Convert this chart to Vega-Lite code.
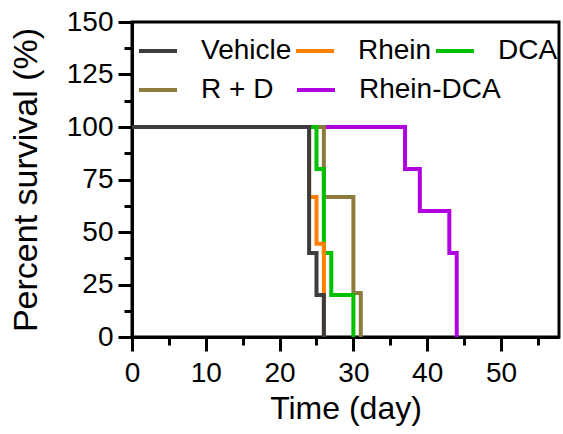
{
  "$schema": "https://vega.github.io/schema/vega-lite/v6.json",
  "autosize": "none",
  "width": 427,
  "height": 315,
  "padding": {"left": 132, "top": 22, "right": 4, "bottom": 97},
  "background": "white",
  "config": {
    "font": "Liberation Sans",
    "view": {"stroke": "black", "strokeWidth": 3},
    "axis": {
      "grid": false,
      "domainColor": "black",
      "domainWidth": 3,
      "tickColor": "black",
      "tickWidth": 3,
      "labelColor": "black",
      "titleColor": "black",
      "labelFont": "Liberation Sans",
      "titleFont": "Liberation Sans",
      "labelFontSize": 28,
      "titleFontWeight": "normal",
      "labelFlush": false,
      "labelOverlap": false,
      "labelBound": false
    },
    "legend": {
      "orient": "none",
      "labelFont": "Liberation Sans",
      "labelFontSize": 28,
      "labelColor": "black",
      "symbolType": "stroke",
      "symbolSize": 1444,
      "symbolStrokeWidth": 4,
      "labelOffset": 22,
      "padding": 0,
      "rowPadding": 0,
      "direction": "horizontal",
      "gridAlign": "none"
    }
  },
  "data": {
    "values": [
      {"group": "Rhein-DCA", "day": 0, "pct": 100},
      {"group": "Rhein-DCA", "day": 37, "pct": 80},
      {"group": "Rhein-DCA", "day": 39, "pct": 60},
      {"group": "Rhein-DCA", "day": 43, "pct": 40},
      {"group": "Rhein-DCA", "day": 44, "pct": 0},
      {"group": "R + D", "day": 0, "pct": 100},
      {"group": "R + D", "day": 26, "pct": 66.7},
      {"group": "R + D", "day": 30, "pct": 21},
      {"group": "R + D", "day": 31, "pct": 0},
      {"group": "DCA", "day": 0, "pct": 100},
      {"group": "DCA", "day": 25, "pct": 80},
      {"group": "DCA", "day": 26, "pct": 40},
      {"group": "DCA", "day": 27, "pct": 20},
      {"group": "DCA", "day": 30, "pct": 0},
      {"group": "Rhein", "day": 0, "pct": 100},
      {"group": "Rhein", "day": 24, "pct": 66.7},
      {"group": "Rhein", "day": 25, "pct": 44.4},
      {"group": "Rhein", "day": 26, "pct": 0},
      {"group": "Vehicle", "day": 0, "pct": 100},
      {"group": "Vehicle", "day": 24, "pct": 40},
      {"group": "Vehicle", "day": 25, "pct": 20},
      {"group": "Vehicle", "day": 26, "pct": 0}
    ]
  },
  "encoding": {
    "x": {
      "field": "day",
      "type": "quantitative",
      "scale": {"domain": [0, 57.86], "nice": false, "zero": false},
      "axis": {
        "values": [0, 5, 10, 15, 20, 25, 30, 35, 40, 45, 50, 55],
        "labelExpr": "datum.value % 10 === 0 ? datum.label : ''",
        "tickSize": {"condition": {"test": "datum.value % 10 !== 0", "value": 8}, "value": 14},
        "labelPadding": 8,
        "title": "Time (day)",
        "titleFontSize": 32,
        "titlePadding": 6
      }
    },
    "y": {
      "field": "pct",
      "type": "quantitative",
      "scale": {"domain": [0, 150], "nice": false},
      "axis": {
        "values": [0, 12.5, 25, 37.5, 50, 62.5, 75, 87.5, 100, 112.5, 125, 137.5, 150],
        "labelExpr": "datum.value % 25 === 0 ? datum.label : ''",
        "tickSize": {"condition": {"test": "datum.value % 25 !== 0", "value": 8}, "value": 14},
        "labelPadding": 5,
        "title": "Percent survival (%)",
        "titleFontSize": 34,
        "titlePadding": 23
      }
    }
  },
  "layer": [
    {
      "transform": [{"filter": "datum.group === 'Rhein-DCA' || datum.group === 'R + D'"}],
      "mark": {"type": "line", "interpolate": "step-after", "strokeWidth": 4},
      "encoding": {
        "stroke": {
          "field": "group",
          "type": "nominal",
          "sort": null,
          "scale": {"domain": ["R + D", "Rhein-DCA"], "range": ["#8c7b3c", "#b000e0"]},
          "legend": {"title": null, "legendX": 5, "legendY": 47, "columns": 2, "columnPadding": 15}
        }
      }
    },
    {
      "transform": [{"filter": "datum.group !== 'Rhein-DCA' && datum.group !== 'R + D'"}],
      "mark": {"type": "line", "interpolate": "step-after", "strokeWidth": 4},
      "encoding": {
        "color": {
          "field": "group",
          "type": "nominal",
          "sort": null,
          "scale": {"domain": ["Vehicle", "Rhein", "DCA"], "range": ["#3c3c3c", "#ff7f00", "#00c000"]},
          "legend": {"title": null, "legendX": 5, "legendY": 8, "columns": 3, "columnPadding": -4}
        }
      }
    }
  ]
}
